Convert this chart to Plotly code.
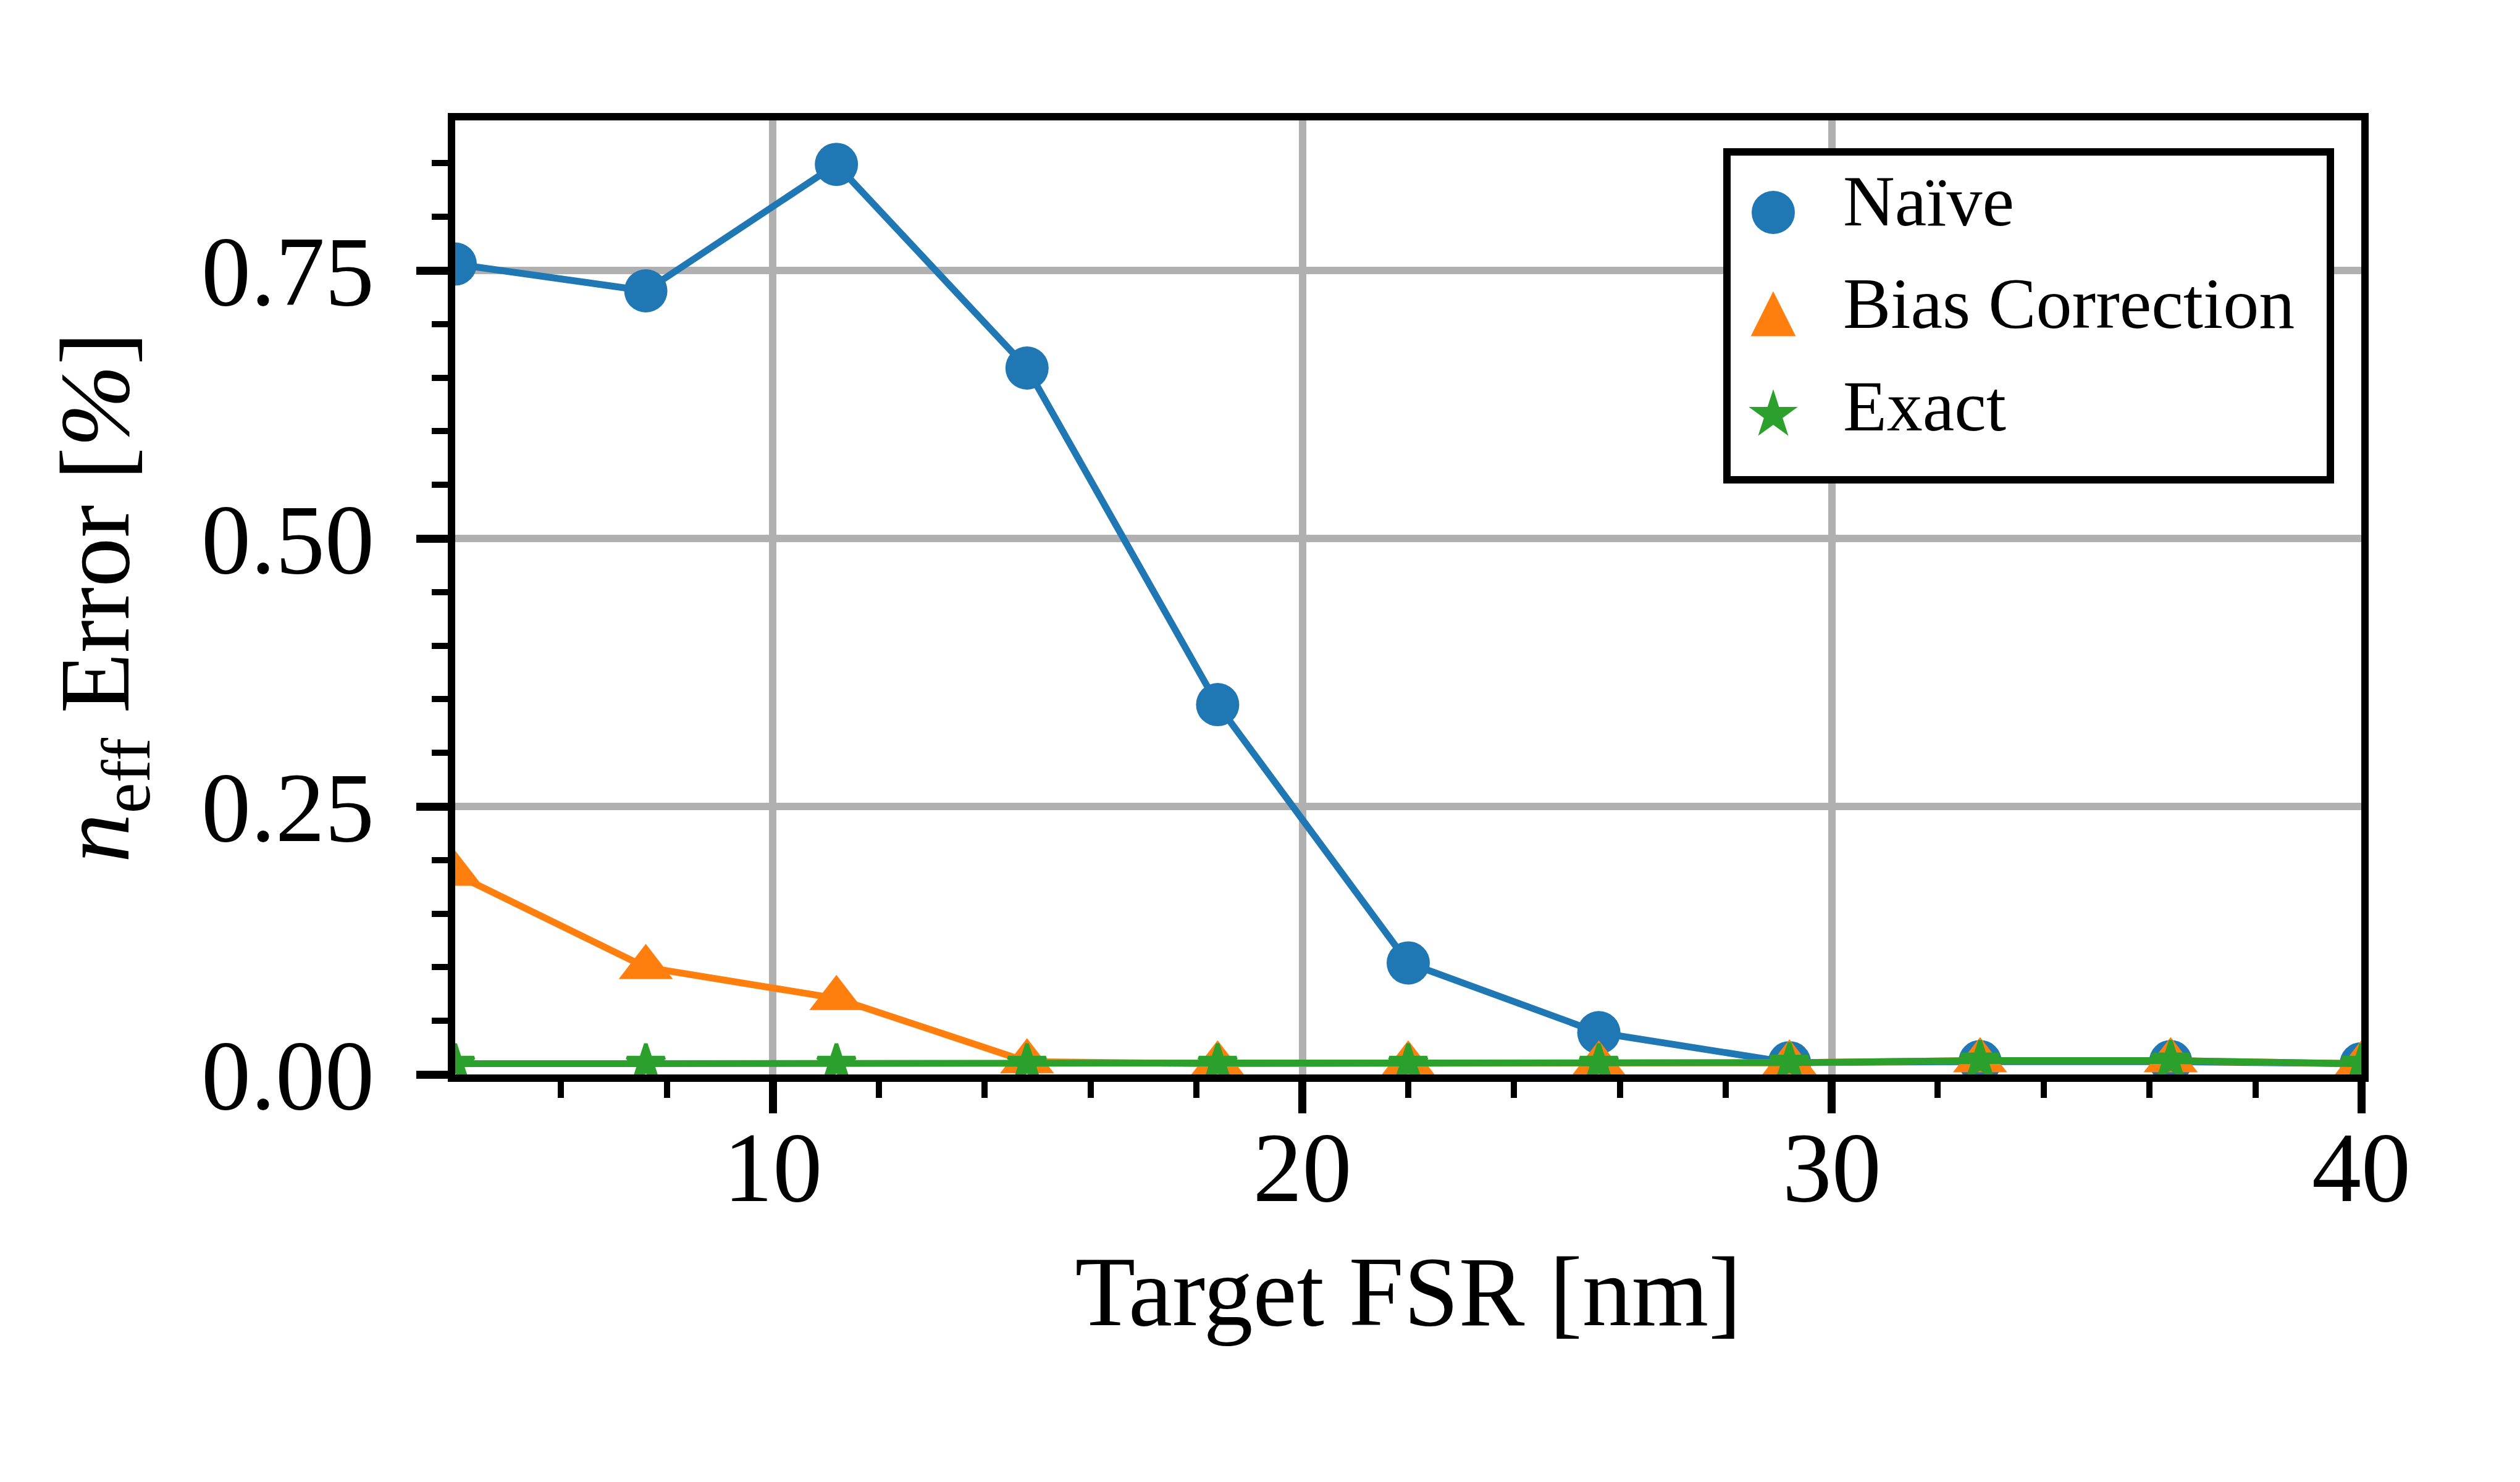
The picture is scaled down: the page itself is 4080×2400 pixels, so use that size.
import plotly.graph_objects as go
import math

# ---------------- data ----------------
target_fsr = [4.0, 7.6, 11.2, 14.8, 18.4, 22.0, 25.6, 29.2, 32.8, 36.4, 40.0]
naive_err = [0.756, 0.731, 0.849, 0.659, 0.345, 0.104, 0.039, 0.011, 0.012, 0.012, 0.010]
bias_err = [0.187, 0.100, 0.071, 0.012, 0.010, 0.010, 0.010, 0.011, 0.013, 0.013, 0.010]
exact_err = [0.010, 0.010, 0.010, 0.010, 0.010, 0.010, 0.010, 0.011, 0.013, 0.013, 0.010]
series_names = ["Naïve", "Bias Correction", "Exact"]
x_ticks = [10, 20, 30, 40]
x_minor_ticks = [6, 8, 12, 14, 16, 18, 22, 24, 26, 28, 32, 34, 36, 38]
y_ticks = [0.0, 0.25, 0.50, 0.75]

# ---------------- style ----------------
W, H = 4080, 2400
PL, PR, PT, PB = 729, 3815, 187, 1732          # plot area in pixels (spines drawn just outside)
FONT = "Liberation Serif"
C_BLUE, C_ORANGE, C_GREEN = "#1f77b4", "#ff7f0e", "#2ca02c"
GRID = "#b0b0b0"


def px_x(p):
    return (p - PL) / (PR - PL)


def px_y(p):
    return (PB - p) / (PB - PT)


fig = go.Figure()

specs = [
    (naive_err, series_names[0], C_BLUE, "circle", 70, 0),
    (bias_err, series_names[1], C_ORANGE, "triangle-up", 76, 0),
    (exact_err, series_names[2], C_GREEN, "star", 46, 6),
]
for yv, name, col, sym, sz, lw in specs:
    fig.add_trace(go.Scatter(
        x=target_fsr, y=yv, mode="lines+markers", name=name,
        line=dict(color=col, width=11),
        marker=dict(symbol=sym, size=sz, color=col, line=dict(width=lw, color=col)),
        showlegend=False, legendgroup=name,
    ))
# legend entries (their key symbols are drawn as large shapes below)
for yv, name, col, sym, sz, lw in specs:
    fig.add_trace(go.Scatter(
        x=[None], y=[None], mode="markers", name=name,
        marker=dict(symbol=sym, size=sz, color="rgba(0,0,0,0)"),
        showlegend=True, legendgroup=name,
    ))

# ---------------- legend frame and key symbols ----------------
LB_L, LB_R, LB_T, LB_B = 2788, 3765, 238, 769
key_x = 2863
key_y = [336, 501, 664]
shapes = [dict(type="rect", xref="paper", yref="paper",
               x0=px_x(LB_L), x1=px_x(LB_R), y0=px_y(LB_B), y1=px_y(LB_T),
               line=dict(color="black", width=12), fillcolor="white", layer="above")]
r = 34
tri = f"M0,{r} L{-r},{-r} L{r},{-r} Z"
pts = []
rs = 32
for k in range(10):
    ang = math.pi / 2 + k * math.pi / 5
    rad = rs if k % 2 == 0 else rs * 0.381966
    pts.append((rad * math.cos(ang), rad * math.sin(ang)))
star = "M" + " L".join(f"{a:.2f},{b:.2f}" for a, b in pts) + " Z"
shapes.append(dict(type="circle", xref="paper", yref="paper", xsizemode="pixel", ysizemode="pixel",
                   xanchor=px_x(key_x), yanchor=px_y(key_y[0]), x0=-35, x1=35, y0=-35, y1=35,
                   fillcolor=C_BLUE, line=dict(width=0), layer="above"))
shapes.append(dict(type="path", xref="paper", yref="paper", xsizemode="pixel", ysizemode="pixel",
                   xanchor=px_x(key_x), yanchor=px_y(key_y[1]), path=tri,
                   fillcolor=C_ORANGE, line=dict(color=C_ORANGE, width=3), layer="above"))
shapes.append(dict(type="path", xref="paper", yref="paper", xsizemode="pixel", ysizemode="pixel",
                   xanchor=px_x(key_x), yanchor=px_y(key_y[2]), path=star,
                   fillcolor=C_GREEN, line=dict(color=C_GREEN, width=6), layer="above"))

axis_common = dict(
    showgrid=True, gridcolor=GRID, gridwidth=12,
    showline=True, linecolor="black", linewidth=12, mirror=True,
    ticks="outside", ticklen=51, tickwidth=13, tickcolor="black",
    tickfont=dict(family=FONT, size=160, color="black"),
    zeroline=False,
)

fig.update_layout(
    width=W, height=H,
    margin=dict(l=PL, r=W - PR, t=PT, b=H - PB, autoexpand=False),
    paper_bgcolor="white", plot_bgcolor="white",
    font=dict(family=FONT, color="black"),
    xaxis=dict(
        **axis_common, range=[4, 40], tickmode="array", tickvals=x_ticks,
        ticklabelstandoff=-50,
        minor=dict(tickmode="array", tickvals=x_minor_ticks, ticks="outside", ticklen=26,
                   tickwidth=10, tickcolor="black", showgrid=False),
        title=dict(text="Target FSR [nm]", font=dict(family=FONT, size=160, color="black"),
                   standoff=60),
    ),
    yaxis=dict(
        **axis_common, range=[0, 0.89], tickmode="array", tickvals=y_ticks, tickformat=".2f",
        ticklabelstandoff=36,
        minor=dict(dtick=0.05, tick0=0, ticks="outside", ticklen=26, tickwidth=10,
                   tickcolor="black", showgrid=False),
        title=dict(text="<i>n</i><sub>eff</sub> Error [<i>%</i>]",
                   font=dict(family=FONT, size=160, color="black"), standoff=68),
    ),
    legend=dict(
        x=px_x(2936), y=px_y(230), xanchor="left", yanchor="top",
        bgcolor="rgba(0,0,0,0)", borderwidth=0,
        font=dict(family=FONT, size=116, color="black"),
        traceorder="grouped", tracegroupgap=12, itemwidth=30,
    ),
    shapes=shapes,
)

fig.write_html("out.html")
